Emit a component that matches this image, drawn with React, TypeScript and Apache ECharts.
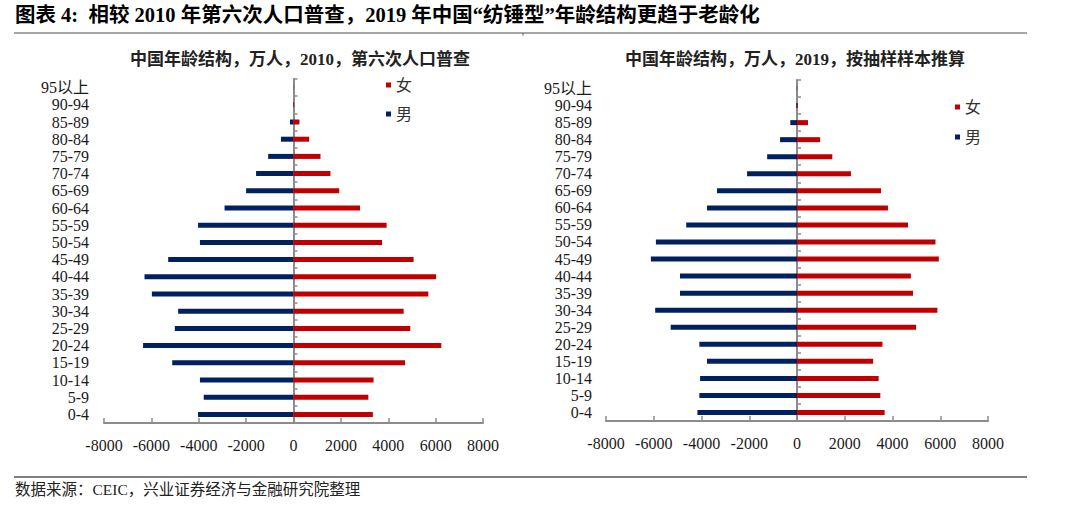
import React, { useEffect, useRef } from 'react';
import * as echarts from 'echarts';

const ageGroups = ['0-4', '5-9', '10-14', '15-19', '20-24', '25-29', '30-34', '35-39', '40-44', '45-49', '50-54', '55-59', '60-64', '65-69', '70-74', '75-79', '80-84', '85-89', '90-94', '95以上'];

const male2010 = [-4030, -3790, -3950, -5120, -6350, -5010, -4870, -5980, -6290, -5290, -3950, -4030, -2910, -2000, -1580, -1070, -530, -150, -20, -5];
const female2010 = [3350, 3160, 3380, 4710, 6240, 4930, 4650, 5690, 6020, 5070, 3740, 3930, 2810, 1930, 1560, 1140, 660, 250, 30, 5];

const male2019 = [-4170, -4090, -4060, -3770, -4090, -5290, -5940, -4900, -4900, -6120, -5910, -4640, -3770, -3350, -2090, -1250, -710, -280, -30, -5];
const female2019 = [3670, 3490, 3420, 3190, 3580, 4990, 5880, 4860, 4770, 5940, 5800, 4650, 3810, 3520, 2260, 1480, 970, 460, 40, 10];

const xTicks = { min: -8000, max: 8000, interval: 2000 };

const FONT = '"Liberation Serif", "Noto Sans CJK SC", serif';
const MALE_COLOR = '#002060';
const FEMALE_COLOR = '#c00000';
const AXIS_COLOR = '#8c8c8c';

function makeX(gridIndex: number) {
  return {
    type: 'value',
    gridIndex,
    min: xTicks.min,
    max: xTicks.max,
    interval: xTicks.interval,
    axisLine: { show: true, onZero: false, lineStyle: { color: AXIS_COLOR, width: 2 } },
    axisTick: { show: true, inside: true, length: 5, lineStyle: { color: AXIS_COLOR, width: 1.5 } },
    splitLine: { show: false },
    axisLabel: {
      fontSize: 16,
      fontFamily: FONT,
      color: '#1a1a1a',
      margin: 14,
      formatter: (v: number) => String(v),
    },
  };
}

// label axis: sits at the grid's left edge, shows only the category names
function makeLabelY(gridIndex: number, margin: number) {
  return {
    type: 'category',
    gridIndex,
    position: 'left',
    data: ageGroups,
    axisLine: { show: false, onZero: false },
    axisTick: { show: false },
    splitLine: { show: false },
    axisLabel: { fontSize: 16, fontFamily: FONT, color: '#1a1a1a', margin, interval: 0 },
  };
}

// zero axis: the vertical line at value 0 with ticks pointing right
function makeZeroY(gridIndex: number) {
  return {
    type: 'category',
    gridIndex,
    position: 'right',
    data: ageGroups,
    axisLine: { show: true, onZero: true, lineStyle: { color: AXIS_COLOR, width: 2 } },
    axisTick: { show: true, inside: false, length: 4, lineStyle: { color: AXIS_COLOR, width: 1.5 } },
    axisLabel: { show: false },
    splitLine: { show: false },
  };
}

function makeSeries(xIdx: number, yIdx: number, male: number[], female: number[]) {
  return [
    {
      name: '男',
      type: 'bar',
      xAxisIndex: xIdx,
      yAxisIndex: yIdx,
      data: male,
      barWidth: 5,
      barGap: '-100%',
      itemStyle: { color: MALE_COLOR },
    },
    {
      name: '女',
      type: 'bar',
      xAxisIndex: xIdx,
      yAxisIndex: yIdx,
      data: female,
      barWidth: 5,
      barGap: '-100%',
      itemStyle: { color: FEMALE_COLOR },
    },
  ];
}

const legendBase = {
  orient: 'vertical',
  data: ['女', '男'],
  icon: 'rect',
  itemWidth: 5,
  itemHeight: 5,
  padding: 0,
  textStyle: { fontSize: 16, fontFamily: FONT, color: '#333' },
};

const subRich = {
  a: { fontSize: 17, fontFamily: FONT, color: '#222' },
  b: { fontSize: 17, fontFamily: FONT, color: '#222', fontWeight: 'bold' },
};

const option = {
  animation: false,
  backgroundColor: '#ffffff',
  title: [
    {
      text: '图表 4:  相较 2010 年第六次人口普查，2019 年中国“纺锤型”年龄结构更趋于老龄化',
      left: 15,
      top: 5,
      padding: 0,
      textStyle: { fontSize: 20.5, fontWeight: 'bold', fontFamily: FONT, color: '#000' },
    },
    {
      text: '{a|中国年龄结构，万人，}{b|2010}{a|，第六次人口普查}',
      left: 300,
      top: 51,
      textAlign: 'center',
      padding: 0,
      textStyle: { rich: subRich },
    },
    {
      text: '{a|中国年龄结构，万人，}{b|2019}{a|，按抽样样本推算}',
      left: 795,
      top: 51,
      textAlign: 'center',
      padding: 0,
      textStyle: { rich: subRich },
    },
  ],
  legend: [
    { ...legendBase, left: 386, top: 77, itemGap: 13 },
    { ...legendBase, left: 955, top: 99, itemGap: 14 },
  ],
  grid: [
    { left: 104, width: 379, top: 79, height: 344, outerBoundsMode: 'none', containLabel: false },
    { left: 606, width: 382, top: 80, height: 341, outerBoundsMode: 'none', containLabel: false },
  ],
  xAxis: [makeX(0), makeX(1)],
  yAxis: [makeLabelY(0, 15), makeZeroY(0), makeLabelY(1, 14), makeZeroY(1)],
  series: [...makeSeries(0, 0, male2010, female2010), ...makeSeries(1, 2, male2019, female2019)],
  graphic: [
    { type: 'line', shape: { x1: 14, y1: 33, x2: 1027, y2: 33 }, style: { stroke: '#a6a6a6', lineWidth: 2 } },
    { type: 'line', shape: { x1: 523, y1: 33, x2: 523, y2: 35.5 }, style: { stroke: '#555', lineWidth: 1 } },
    { type: 'line', shape: { x1: 14, y1: 477, x2: 1027, y2: 477 }, style: { stroke: '#555', lineWidth: 1.3 } },
    {
      type: 'text',
      x: 15,
      y: 489,
      style: {
        text: '数据来源：CEIC，兴业证券经济与金融研究院整理',
        font: '15.5px "Liberation Serif", "Noto Sans CJK SC", serif',
        fill: '#222',
        textAlign: 'left',
        textVerticalAlign: 'middle',
        align: 'left',
        verticalAlign: 'middle',
      },
    },
  ],
};

export default function App() {
  const ref = useRef<HTMLDivElement>(null);
  useEffect(() => {
    if (!ref.current) return;
    const chart = echarts.init(ref.current, undefined, { renderer: 'svg' });
    chart.setOption(option as any);
    return () => chart.dispose();
  }, []);
  return (
    <div
      ref={ref}
      style={{ position: 'absolute', left: 0, top: 0, width: 1080, height: 507, background: '#fff' }}
    />
  );
}
